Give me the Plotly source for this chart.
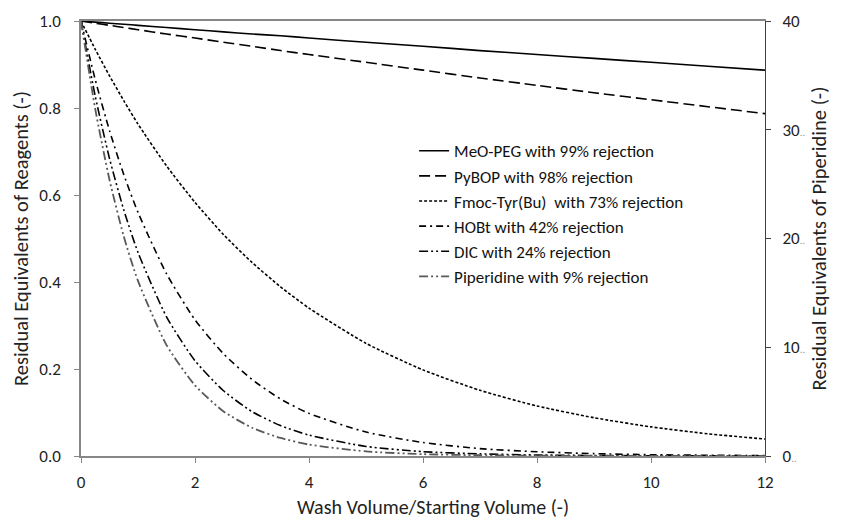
import plotly.graph_objects as go

# Wash volume / starting volume
wash_volume = [0, 0.25, 0.5, 0.75, 1, 1.5, 2, 2.5, 3, 3.5, 4, 5, 6, 7, 8, 9, 10, 11, 12]

meo_peg = [1.000, 0.9975, 0.995, 0.9925, 0.990, 0.985, 0.980, 0.975, 0.970, 0.966, 0.961,
           0.951, 0.942, 0.932, 0.923, 0.914, 0.905, 0.896, 0.887]
pybop = [1.000, 0.995, 0.990, 0.985, 0.980, 0.970, 0.961, 0.951, 0.942, 0.932, 0.923,
         0.905, 0.887, 0.869, 0.852, 0.835, 0.819, 0.803, 0.787]
fmoc = [1.000, 0.935, 0.874, 0.817, 0.763, 0.667, 0.583, 0.509, 0.445, 0.389, 0.340,
        0.259, 0.198, 0.151, 0.115, 0.088, 0.067, 0.051, 0.039]
hobt = [1.000, 0.865, 0.748, 0.647, 0.560, 0.419, 0.313, 0.235, 0.176, 0.131, 0.098,
        0.055, 0.031, 0.017, 0.0097, 0.0054, 0.003, 0.0017, 0.001]
dic = [1.000, 0.827, 0.684, 0.566, 0.468, 0.320, 0.219, 0.150, 0.102, 0.070, 0.048,
       0.022, 0.010, 0.0049, 0.0023, 0.0011, 0.0005, 0.0002, 0.0001]
# Piperidine on the right axis (equivalents, 0-40)
piperidine = [40.0, 31.9, 25.4, 20.2, 16.1, 10.2, 6.5, 4.1, 2.6, 1.66, 1.05,
              0.42, 0.17, 0.07, 0.03, 0.011, 0.004, 0.002, 0.001]

names = ["MeO-PEG with 99% rejection", "PyBOP with 98% rejection",
         "Fmoc-Tyr(Bu)  with 73% rejection", "HOBt with 42% rejection",
         "DIC with 24% rejection", "Piperidine with 9% rejection"]

x_title = "Wash Volume/Starting Volume (-)"
y_title = "Residual Equivalents of Reagents (-)"
y2_title = "Residual Equivalents of Piperidine (-)"

x_ticks = [0, 2, 4, 6, 8, 10, 12]
y_ticks = [0.0, 0.2, 0.4, 0.6, 0.8, 1.0]
y_tick_text = ["0.0", "0.2", "0.4", "0.6", "0.8", "1.0"]
y2_ticks = [0, 10, 20, 30, 40]
y2_tick_text = ["0<span style='font-size:11px;color:#999'>..</span>",
                "10<span style='font-size:11px;color:#999'>..</span>",
                "20<span style='font-size:11px;color:#999'>..</span>",
                "30<span style='font-size:11px;color:#999'>..</span>",
                "40"]

FONT = "Carlito, Lato, 'Open Sans', sans-serif"

styles = [
    dict(color="#000000", dash="solid", width=1.6),
    dict(color="#000000", dash="11px,5px", width=1.6),
    dict(color="#000000", dash="3px,2px", width=1.6),
    dict(color="#000000", dash="7px,4px,2px,4px", width=1.6),
    dict(color="#000000", dash="9px,3px,2px,3px,2px,3px", width=1.6),
    dict(color="#595959", dash="9px,3px,2px,3px,2px,3px", width=1.8),
]

series = [meo_peg, pybop, fmoc, hobt, dic, piperidine]

fig = go.Figure()
for i, (nm, ys, st) in enumerate(zip(names, series, styles)):
    fig.add_trace(go.Scatter(
        x=wash_volume, y=ys, name=nm, mode="lines",
        line=dict(shape="spline", smoothing=0.6, **st),
        yaxis="y2" if i == 5 else "y",
        legendgroup=f"g{i}",
    ))

fig.add_annotation(text=x_title, xref="paper", yref="paper", x=0.515, y=-0.118,
                   xanchor="center", yanchor="middle", showarrow=False,
                   font=dict(size=20, color="#222222"))

fig.update_layout(
    width=848, height=521,
    margin=dict(l=81, r=83, t=21, b=65),
    paper_bgcolor="white", plot_bgcolor="white",
    font=dict(family=FONT, size=17, color="#222222"),
    showlegend=True,
    legend=dict(x=0.487, y=0.742, xanchor="left", yanchor="top",
                bgcolor="rgba(0,0,0,0)", font=dict(size=17, color="#111111"),
                tracegroupgap=0, itemwidth=30),
    xaxis=dict(range=[0, 12], tickvals=x_ticks, ticktext=[str(v) for v in x_ticks],
               showgrid=False, zeroline=False, showline=True, linecolor="#868686",
               linewidth=1.5, mirror=True, ticks="outside", ticklen=5,
               tickcolor="#868686", ticklabelstandoff=5, automargin=False),
    yaxis=dict(range=[0, 1.0], tickvals=y_ticks, ticktext=y_tick_text,
               showgrid=False, zeroline=False, showline=True, linecolor="#868686",
               linewidth=1.5, ticks="outside", ticklen=5, tickcolor="#868686",
               ticklabelstandoff=10, automargin=False,
               title=dict(text=y_title, standoff=5, font=dict(size=20.5))),
    yaxis2=dict(range=[0, 40], tickvals=y2_ticks, ticktext=y2_tick_text,
                overlaying="y", side="right", showgrid=False, zeroline=False,
                showline=True, linecolor="#404040", linewidth=1.2,
                ticks="outside", ticklen=5, tickcolor="#404040",
                ticklabelstandoff=8, automargin=False,
                title=dict(text=y2_title, standoff=4, font=dict(size=20.5))),
)

fig.write_html("out.html")
